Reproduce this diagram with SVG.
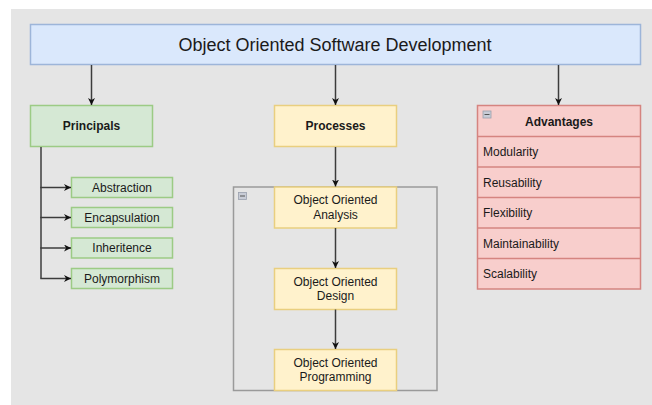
<svg xmlns="http://www.w3.org/2000/svg" width="652" height="405" viewBox="0 0 652 405">
  <style>
    text { font-family: "Liberation Sans", Arial, sans-serif; fill: #1a1a1a; }
    .title { font-size: 18px; }
    .lbl { font-size: 12px; }
    .bold { font-size: 12px; font-weight: bold; }
    .blue { fill: #dae8fc; stroke: #9db5d9; stroke-width: 1.5; }
    .green { fill: #d5e8d4; stroke: #9ccb85; stroke-width: 1.5; }
    .yellow { fill: #fff2cc; stroke: #e9cf7f; stroke-width: 1.5; }
    .red { fill: #f8cecc; stroke: #d58480; stroke-width: 1.5; }
    .edge { fill: none; stroke: #3c3c3c; stroke-width: 1.5; }
    .icon { fill: #c8ccd6; stroke: #9aa0ad; stroke-width: 0.8; }
  </style>
  <defs>
    <marker id="arrow" viewBox="0 0 10 10" refX="10" refY="5" markerWidth="7" markerHeight="7" markerUnits="userSpaceOnUse" orient="auto">
      <path d="M0,0 L10,5 L0,10 L3,5 Z" fill="#111"/>
    </marker>
  </defs>

  <rect x="11" y="9" width="641" height="396" fill="#e5e5e5"/>

  <g id="root">
    <rect class="blue" x="30.5" y="24.5" width="610" height="40"/>
    <text class="title" x="335" y="51" text-anchor="middle">Object Oriented Software Development</text>
  </g>

  <g id="principals">
    <rect class="green" x="30.5" y="105.5" width="122" height="41"/>
    <text class="bold" x="91.5" y="130" text-anchor="middle">Principals</text>
  </g>
  <g id="abstraction">
    <rect class="green" x="71.5" y="177.5" width="101" height="20"/>
    <text class="lbl" x="122" y="191.5" text-anchor="middle">Abstraction</text>
  </g>
  <g id="encapsulation">
    <rect class="green" x="71.5" y="207.5" width="101" height="20"/>
    <text class="lbl" x="122" y="221.5" text-anchor="middle">Encapsulation</text>
  </g>
  <g id="inheritence">
    <rect class="green" x="71.5" y="238" width="101" height="20"/>
    <text class="lbl" x="122" y="252" text-anchor="middle">Inheritence</text>
  </g>
  <g id="polymorphism">
    <rect class="green" x="71.5" y="268.5" width="101" height="20"/>
    <text class="lbl" x="122" y="282.5" text-anchor="middle">Polymorphism</text>
  </g>

  <g id="processes">
    <rect class="yellow" x="274.5" y="105.5" width="122" height="41"/>
    <text class="bold" x="335.5" y="130" text-anchor="middle">Processes</text>
  </g>
  <g id="process-group">
    <rect x="233.5" y="187" width="203.5" height="203.5" fill="none" stroke="#9a9a9a" stroke-width="1.5"/>
    <rect class="icon" x="238.5" y="192.5" width="8" height="7"/>
    <line x1="240" y1="196" x2="245" y2="196" stroke="#555" stroke-width="1"/>
  </g>
  <g id="analysis">
    <rect class="yellow" x="274.5" y="187" width="122" height="41"/>
    <text class="lbl" x="335.5" y="204" text-anchor="middle">Object Oriented</text>
    <text class="lbl" x="335.5" y="218.5" text-anchor="middle">Analysis</text>
  </g>
  <g id="design">
    <rect class="yellow" x="274.5" y="268.5" width="122" height="41"/>
    <text class="lbl" x="335.5" y="285.5" text-anchor="middle">Object Oriented</text>
    <text class="lbl" x="335.5" y="300" text-anchor="middle">Design</text>
  </g>
  <g id="programming">
    <rect class="yellow" x="274.5" y="349.5" width="122" height="41"/>
    <text class="lbl" x="335.5" y="366.5" text-anchor="middle">Object Oriented</text>
    <text class="lbl" x="335.5" y="381" text-anchor="middle">Programming</text>
  </g>

  <g id="advantages">
    <rect class="red" x="477.5" y="105.5" width="163" height="183.5"/>
    <line class="red" x1="477.5" y1="136.5" x2="640.5" y2="136.5"/>
    <line class="red" x1="477.5" y1="167" x2="640.5" y2="167"/>
    <line class="red" x1="477.5" y1="197.5" x2="640.5" y2="197.5"/>
    <line class="red" x1="477.5" y1="228" x2="640.5" y2="228"/>
    <line class="red" x1="477.5" y1="258.5" x2="640.5" y2="258.5"/>
    <rect class="icon" x="483" y="111" width="8" height="7"/>
    <line x1="484.5" y1="114.5" x2="489.5" y2="114.5" stroke="#555" stroke-width="1"/>
    <text class="bold" x="559" y="125.5" text-anchor="middle">Advantages</text>
    <text class="lbl" x="483" y="156">Modularity</text>
    <text class="lbl" x="483" y="186.5">Reusability</text>
    <text class="lbl" x="483" y="217">Flexibility</text>
    <text class="lbl" x="483" y="247.5">Maintainability</text>
    <text class="lbl" x="483" y="278">Scalability</text>
  </g>

  <g id="connectors">
    <line class="edge" x1="91.5" y1="65" x2="91.5" y2="105" marker-end="url(#arrow)"/>
    <line class="edge" x1="335.5" y1="65" x2="335.5" y2="105" marker-end="url(#arrow)"/>
    <line class="edge" x1="558.5" y1="65" x2="558.5" y2="105" marker-end="url(#arrow)"/>
    <path class="edge" d="M41,147 V278.5"/>
    <line class="edge" x1="40.3" y1="187.5" x2="71" y2="187.5" marker-end="url(#arrow)"/>
    <line class="edge" x1="40.3" y1="217.5" x2="71" y2="217.5" marker-end="url(#arrow)"/>
    <line class="edge" x1="40.3" y1="248" x2="71" y2="248" marker-end="url(#arrow)"/>
    <line class="edge" x1="40.3" y1="278.5" x2="71" y2="278.5" marker-end="url(#arrow)"/>
    <line class="edge" x1="335.5" y1="147" x2="335.5" y2="186.5" marker-end="url(#arrow)"/>
    <line class="edge" x1="335.5" y1="228" x2="335.5" y2="268" marker-end="url(#arrow)"/>
    <line class="edge" x1="335.5" y1="309.5" x2="335.5" y2="349" marker-end="url(#arrow)"/>
  </g>
</svg>
